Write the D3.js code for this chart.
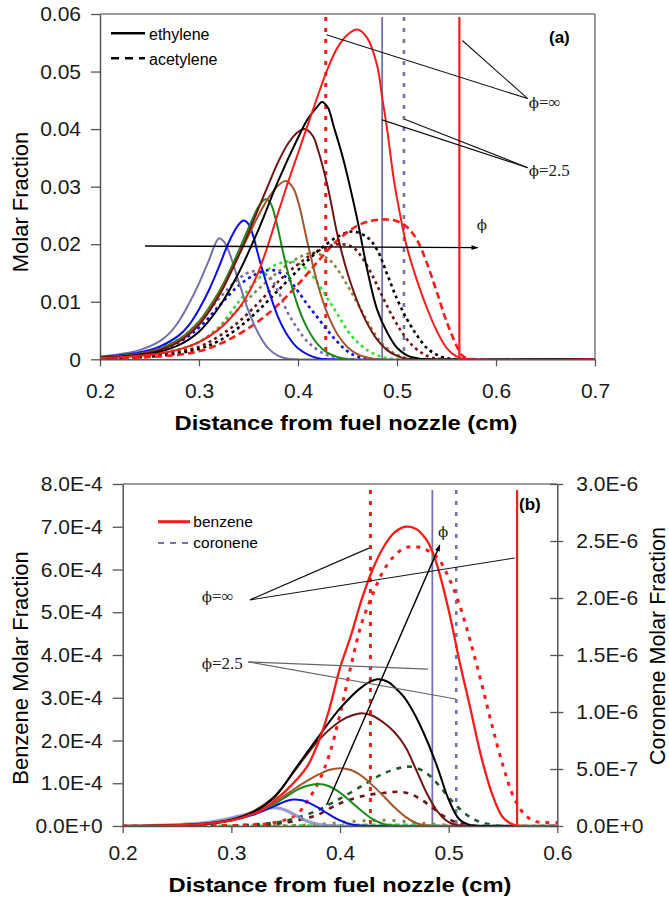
<!DOCTYPE html>
<html>
<head>
<meta charset="utf-8">
<script src="https://cdn.jsdelivr.net/npm/d3@7/dist/d3.min.js"></script>
<style>
  html, body { margin: 0; padding: 0; background: #fff; }
  svg { display: block; }
</style>
</head>
<body>
<svg id="chart" width="669" height="900"></svg>
<script>
// ================= DATA =================
// Panel (a) ticks
const xTicksA = [0.2, 0.3, 0.4, 0.5, 0.6, 0.7];
const yTicksA = [0, 0.01, 0.02, 0.03, 0.04, 0.05, 0.06];
// Panel (b) ticks
const xTicksB = [0.2, 0.3, 0.4, 0.5, 0.6];
const yTicksBL = [0, 1e-4, 2e-4, 3e-4, 4e-4, 5e-4, 6e-4, 7e-4, 8e-4];
const yTicksBR = [0, 5e-7, 1e-6, 1.5e-6, 2e-6, 2.5e-6, 3e-6];

// Flame-edge positions (cm): phi=inf dotted, phi=2.5 solid, phi=2.5 dotted, phi=inf solid
const edgeInfDotted = 0.428;
const edge25Solid = 0.485;
const edge25Dotted = 0.507;
const edgeInfSolid = 0.563;

// ---- Panel (a): ethylene (solid) ----
const ethSlate = [[0.20,0.0005],[0.22,0.0009],[0.24,0.0016],[0.26,0.0031],[0.27,0.0045],[0.28,0.0067],[0.29,0.0097],[0.30,0.0132],[0.31,0.0172],[0.32,0.0210],[0.325,0.0205],[0.33,0.0188],[0.34,0.0136],[0.35,0.0084],[0.36,0.0045],[0.37,0.0019],[0.38,0.0006],[0.39,0.0001],[0.40,0],[0.70,0]];
const ethBlue = [[0.20,0.0004],[0.22,0.0007],[0.24,0.0012],[0.26,0.0022],[0.28,0.0042],[0.29,0.0060],[0.30,0.0087],[0.31,0.0120],[0.32,0.0160],[0.33,0.0203],[0.34,0.0234],[0.345,0.0241],[0.35,0.0235],[0.355,0.0213],[0.36,0.0180],[0.37,0.0122],[0.38,0.0073],[0.39,0.0040],[0.40,0.0019],[0.41,0.0008],[0.42,0.0002],[0.43,0],[0.70,0]];
const ethGreen = [[0.20,0.0003],[0.22,0.0006],[0.24,0.0010],[0.26,0.0018],[0.28,0.0035],[0.30,0.0066],[0.32,0.0117],[0.33,0.0150],[0.34,0.0188],[0.35,0.0228],[0.36,0.0265],[0.367,0.0278],[0.372,0.0272],[0.378,0.0240],[0.385,0.0185],[0.39,0.0150],[0.40,0.0092],[0.41,0.0052],[0.42,0.0026],[0.43,0.0011],[0.44,0.0004],[0.45,0],[0.70,0]];
const ethBrown = [[0.20,0.0003],[0.22,0.0005],[0.24,0.0009],[0.26,0.0017],[0.28,0.0033],[0.30,0.0063],[0.32,0.0113],[0.34,0.0180],[0.35,0.0215],[0.36,0.0250],[0.37,0.0280],[0.38,0.0302],[0.388,0.0310],[0.395,0.0298],[0.40,0.0275],[0.41,0.0200],[0.42,0.0130],[0.43,0.0078],[0.44,0.0043],[0.45,0.0021],[0.46,0.0009],[0.47,0.0003],[0.48,0],[0.70,0]];
const ethMaroon = [[0.20,0.0003],[0.22,0.0005],[0.24,0.0009],[0.26,0.0016],[0.28,0.0031],[0.30,0.0060],[0.32,0.0110],[0.34,0.0180],[0.36,0.0262],[0.37,0.0303],[0.38,0.0343],[0.39,0.0375],[0.40,0.0395],[0.407,0.0400],[0.415,0.0388],[0.42,0.0365],[0.43,0.0300],[0.44,0.0215],[0.45,0.0150],[0.46,0.0100],[0.47,0.0062],[0.48,0.0034],[0.49,0.0016],[0.50,0.0006],[0.51,0.0001],[0.52,0],[0.70,0]];
const ethBlack = [[0.20,0.0002],[0.22,0.0004],[0.24,0.0007],[0.26,0.0013],[0.28,0.0025],[0.30,0.0048],[0.32,0.0090],[0.34,0.0150],[0.36,0.0225],[0.38,0.0310],[0.40,0.0385],[0.41,0.0418],[0.42,0.0440],[0.424,0.0447],[0.43,0.0438],[0.436,0.0405],[0.446,0.0346],[0.46,0.0242],[0.47,0.0155],[0.48,0.0086],[0.49,0.0047],[0.50,0.0020],[0.51,0.0007],[0.52,0.0002],[0.53,0],[0.70,0]];
const ethRed = [[0.20,0.0002],[0.24,0.0006],[0.27,0.0013],[0.30,0.0030],[0.32,0.0052],[0.34,0.0088],[0.35,0.0115],[0.36,0.0152],[0.37,0.0200],[0.38,0.0255],[0.39,0.0308],[0.40,0.0358],[0.41,0.0408],[0.42,0.0458],[0.43,0.0505],[0.44,0.0542],[0.45,0.0564],[0.46,0.0573],[0.47,0.0558],[0.48,0.0510],[0.485,0.0455],[0.49,0.0400],[0.497,0.0310],[0.505,0.0235],[0.51,0.0195],[0.52,0.0138],[0.53,0.0090],[0.54,0.0050],[0.55,0.0020],[0.56,0.0005],[0.57,0],[0.70,0]];

// ---- Panel (a): acetylene (dashed) ----
const acSlate = [[0.20,0.0004],[0.25,0.0015],[0.28,0.0035],[0.30,0.0065],[0.32,0.0105],[0.34,0.0140],[0.355,0.0153],[0.37,0.0145],[0.38,0.0118],[0.39,0.0080],[0.40,0.0052],[0.41,0.0030],[0.42,0.0016],[0.43,0.0007],[0.44,0.0002],[0.46,0],[0.70,0]];
const acBlue = [[0.20,0.0003],[0.25,0.0012],[0.28,0.0030],[0.30,0.0055],[0.32,0.0092],[0.34,0.0128],[0.36,0.0150],[0.375,0.0155],[0.39,0.0140],[0.40,0.0118],[0.41,0.0094],[0.42,0.0072],[0.43,0.0050],[0.44,0.0030],[0.45,0.0014],[0.46,0.0005],[0.48,0],[0.70,0]];
const acLime = [[0.20,0.0002],[0.25,0.0008],[0.28,0.0018],[0.30,0.0030],[0.32,0.0056],[0.34,0.0100],[0.36,0.0140],[0.375,0.0162],[0.39,0.0170],[0.40,0.0167],[0.41,0.0155],[0.42,0.0132],[0.43,0.0105],[0.44,0.0078],[0.45,0.0050],[0.46,0.0030],[0.47,0.0016],[0.48,0.0007],[0.49,0.0002],[0.51,0],[0.70,0]];
const acOlive = [[0.20,0.0002],[0.25,0.0007],[0.28,0.0016],[0.30,0.0030],[0.32,0.0054],[0.34,0.0088],[0.36,0.0122],[0.38,0.0152],[0.40,0.0176],[0.415,0.0185],[0.43,0.0175],[0.44,0.0156],[0.45,0.0128],[0.46,0.0098],[0.47,0.0066],[0.48,0.0038],[0.49,0.0019],[0.50,0.0008],[0.51,0.0002],[0.53,0],[0.70,0]];
const acMaroon = [[0.20,0.0002],[0.26,0.0008],[0.30,0.0022],[0.32,0.0040],[0.34,0.0065],[0.36,0.0098],[0.38,0.0135],[0.40,0.0165],[0.42,0.0188],[0.44,0.0200],[0.455,0.0195],[0.465,0.0176],[0.475,0.0146],[0.485,0.0110],[0.495,0.0076],[0.505,0.0047],[0.515,0.0025],[0.525,0.0011],[0.535,0.0003],[0.55,0],[0.70,0]];
const acBlack = [[0.20,0.0001],[0.26,0.0006],[0.30,0.0018],[0.32,0.0032],[0.34,0.0055],[0.36,0.0085],[0.38,0.0120],[0.40,0.0155],[0.42,0.0188],[0.44,0.0213],[0.455,0.0222],[0.47,0.0212],[0.48,0.0190],[0.49,0.0148],[0.50,0.0105],[0.51,0.0070],[0.52,0.0042],[0.53,0.0020],[0.54,0.0008],[0.55,0.0002],[0.56,0],[0.70,0]];
const acRed = [[0.20,0.0001],[0.26,0.0005],[0.30,0.0014],[0.33,0.0034],[0.36,0.0066],[0.38,0.0095],[0.40,0.0130],[0.42,0.0170],[0.44,0.0207],[0.46,0.0232],[0.475,0.0241],[0.49,0.0243],[0.50,0.0240],[0.51,0.0230],[0.52,0.0208],[0.53,0.0168],[0.54,0.0118],[0.55,0.0066],[0.56,0.0024],[0.565,0.0008],[0.57,0.0002],[0.58,0],[0.70,0]];

// ---- Panel (b): benzene (solid, left axis) ----
const bzSlate = [[0.20,0],[0.24,0.02e-4],[0.27,0.06e-4],[0.29,0.13e-4],[0.31,0.25e-4],[0.32,0.32e-4],[0.33,0.39e-4],[0.338,0.43e-4],[0.345,0.41e-4],[0.35,0.37e-4],[0.36,0.24e-4],[0.37,0.11e-4],[0.38,0.04e-4],[0.39,0.01e-4],[0.40,0],[0.60,0]];
const bzBlue = [[0.20,0],[0.25,0.02e-4],[0.28,0.06e-4],[0.30,0.13e-4],[0.32,0.26e-4],[0.33,0.36e-4],[0.34,0.47e-4],[0.35,0.58e-4],[0.357,0.62e-4],[0.365,0.60e-4],[0.37,0.56e-4],[0.38,0.43e-4],[0.39,0.27e-4],[0.40,0.13e-4],[0.41,0.04e-4],[0.42,0.01e-4],[0.43,0],[0.60,0]];
const bzGreen = [[0.20,0],[0.25,0.02e-4],[0.28,0.06e-4],[0.30,0.14e-4],[0.32,0.29e-4],[0.34,0.52e-4],[0.35,0.68e-4],[0.36,0.84e-4],[0.37,0.94e-4],[0.38,0.98e-4],[0.39,0.93e-4],[0.40,0.78e-4],[0.41,0.57e-4],[0.42,0.35e-4],[0.43,0.16e-4],[0.44,0.05e-4],[0.45,0.01e-4],[0.46,0],[0.60,0]];
const bzBrown = [[0.20,0],[0.25,0.02e-4],[0.28,0.06e-4],[0.30,0.14e-4],[0.32,0.30e-4],[0.34,0.56e-4],[0.36,0.90e-4],[0.37,1.06e-4],[0.38,1.20e-4],[0.39,1.31e-4],[0.40,1.35e-4],[0.41,1.31e-4],[0.42,1.17e-4],[0.43,0.95e-4],[0.44,0.70e-4],[0.45,0.44e-4],[0.46,0.22e-4],[0.47,0.07e-4],[0.48,0.01e-4],[0.49,0],[0.60,0]];
const bzMaroon = [[0.20,0],[0.25,0.02e-4],[0.28,0.07e-4],[0.30,0.15e-4],[0.32,0.34e-4],[0.34,0.70e-4],[0.36,1.35e-4],[0.38,2.00e-4],[0.40,2.45e-4],[0.41,2.58e-4],[0.42,2.64e-4],[0.43,2.58e-4],[0.44,2.42e-4],[0.45,2.20e-4],[0.46,1.86e-4],[0.47,1.32e-4],[0.48,0.76e-4],[0.49,0.33e-4],[0.50,0.09e-4],[0.51,0.01e-4],[0.52,0],[0.60,0]];
const bzBlack = [[0.20,0],[0.25,0.02e-4],[0.28,0.06e-4],[0.30,0.14e-4],[0.32,0.32e-4],[0.34,0.68e-4],[0.36,1.38e-4],[0.38,2.08e-4],[0.40,2.75e-4],[0.42,3.25e-4],[0.434,3.43e-4],[0.445,3.36e-4],[0.45,3.25e-4],[0.46,2.98e-4],[0.47,2.55e-4],[0.48,2.00e-4],[0.49,1.35e-4],[0.50,0.62e-4],[0.51,0.15e-4],[0.52,0.02e-4],[0.53,0],[0.60,0]];
const bzRed = [[0.20,0],[0.25,0.02e-4],[0.28,0.06e-4],[0.30,0.13e-4],[0.32,0.28e-4],[0.33,0.40e-4],[0.34,0.60e-4],[0.35,0.82e-4],[0.36,1.08e-4],[0.37,1.40e-4],[0.38,1.95e-4],[0.39,2.72e-4],[0.40,3.70e-4],[0.41,4.45e-4],[0.42,5.30e-4],[0.43,6.00e-4],[0.44,6.52e-4],[0.45,6.86e-4],[0.46,7.00e-4],[0.47,6.95e-4],[0.48,6.68e-4],[0.485,6.42e-4],[0.49,6.05e-4],[0.50,5.05e-4],[0.51,3.85e-4],[0.52,2.75e-4],[0.53,1.62e-4],[0.54,0.75e-4],[0.55,0.20e-4],[0.56,0.03e-4],[0.57,0],[0.60,0]];

// ---- Panel (b): coronene (dotted, right axis) ----
const coRed = [[0.20,0],[0.30,0.005e-6],[0.34,0.03e-6],[0.36,0.10e-6],[0.37,0.22e-6],[0.38,0.38e-6],[0.39,0.62e-6],[0.40,0.98e-6],[0.41,1.40e-6],[0.42,1.78e-6],[0.43,2.03e-6],[0.44,2.24e-6],[0.45,2.37e-6],[0.46,2.44e-6],[0.47,2.45e-6],[0.48,2.42e-6],[0.49,2.35e-6],[0.50,2.18e-6],[0.51,1.94e-6],[0.52,1.62e-6],[0.53,1.26e-6],[0.54,0.88e-6],[0.55,0.53e-6],[0.56,0.25e-6],[0.57,0.10e-6],[0.58,0.04e-6],[0.59,0.03e-6],[0.60,0.03e-6]];
const coDkGreen = [[0.20,0],[0.30,0.005e-6],[0.34,0.03e-6],[0.36,0.07e-6],[0.38,0.14e-6],[0.39,0.19e-6],[0.40,0.24e-6],[0.42,0.35e-6],[0.44,0.46e-6],[0.455,0.51e-6],[0.465,0.52e-6],[0.475,0.49e-6],[0.485,0.42e-6],[0.495,0.31e-6],[0.505,0.20e-6],[0.515,0.11e-6],[0.525,0.05e-6],[0.535,0.02e-6],[0.55,0],[0.60,0]];
const coMaroon = [[0.20,0],[0.32,0.005e-6],[0.35,0.03e-6],[0.37,0.07e-6],[0.38,0.10e-6],[0.39,0.15e-6],[0.40,0.20e-6],[0.42,0.26e-6],[0.44,0.29e-6],[0.455,0.30e-6],[0.465,0.28e-6],[0.475,0.23e-6],[0.485,0.16e-6],[0.495,0.09e-6],[0.505,0.04e-6],[0.515,0.015e-6],[0.53,0],[0.60,0]];
const coOlive = [[0.20,0],[0.36,0.005e-6],[0.38,0.015e-6],[0.40,0.03e-6],[0.42,0.045e-6],[0.44,0.05e-6],[0.46,0.04e-6],[0.48,0.02e-6],[0.50,0.008e-6],[0.52,0],[0.60,0]];
const coLime = [[0.20,0],[0.38,0.004e-6],[0.42,0.01e-6],[0.46,0.01e-6],[0.50,0.003e-6],[0.60,0]];

// ---- Annotations (data coordinates) ----
const PHI = "\u03D5";
const annA = {
  inf: { text: PHI + "=\u221E", at: [0.633, 0.0437], from: [0.632, 0.0453], to: [[0.4287, 0.0564], [0.566, 0.0554]] },
  p25: { text: PHI + "=2.5", at: [0.633, 0.0319], from: [0.632, 0.0333], to: [[0.485, 0.0416], [0.5077, 0.0417]] },
  arrow: { from: [0.2455, 0.0197], to: [0.5816, 0.0194], text: PHI, at: [0.5806, 0.0225] }
};
const annB = {
  inf: { text: PHI + "=\u221E", at: [0.2727, 5.24e-4], from: [0.3171, 5.29e-4], to: [[0.4266, 6.50e-4], [0.5609, 6.27e-4]] },
  p25: { text: PHI + "=2.5", at: [0.2727, 3.67e-4], from: [0.3155, 3.84e-4], to: [[0.4809, 3.67e-4], [0.5066, 2.97e-4]] },
  arrow: { from: [0.3877, 0.49e-4], to: [0.4919, 6.57e-4], text: PHI, at: [0.4901, 6.76e-4] }
};

// ================= STYLES =================
const COL = {
  slate: "#7272AC", blue: "#0B0BF2", green: "#188A18", lime: "#33E033",
  brown: "#A5552B", olive: "#8E8442", maroon: "#701414", black: "#000000",
  red: "#FF1A1A", dkgreen: "#1E5C2C", axis: "#555555", frame: "#7a7a7a"
};
const SANS = "'Liberation Sans', Arial, Helvetica, sans-serif";
const SERIF = "'DejaVu Serif', 'Liberation Serif', 'Times New Roman', serif";
const SERIF2 = "'Liberation Serif', 'Times New Roman', serif";

const svg = d3.select("#chart");
svg.append("rect").attr("width", 669).attr("height", 900).attr("fill", "#fff");

const defs = svg.append("defs");
defs.append("marker").attr("id", "arr").attr("viewBox", "0 0 10 10")
  .attr("refX", 9).attr("refY", 5).attr("markerWidth", 7).attr("markerHeight", 7)
  .attr("orient", "auto").attr("markerUnits", "userSpaceOnUse")
  .append("path").attr("d", "M0,1.5 L10,5 L0,8.5 z").attr("fill", "#000");

function styleAxis(g, fs) {
  g.selectAll(".domain").attr("stroke", COL.axis).attr("stroke-width", 1.5);
  g.selectAll(".tick line").attr("stroke", COL.axis).attr("stroke-width", 1.3);
  g.selectAll(".tick text").attr("fill", "#1a1a1a").style("font-family", SANS).style("font-size", fs + "px");
}

function drawLine(g, data, x, y, color, width, dash, opacity) {
  const gen = d3.line().x(d => x(d[0])).y(d => y(d[1])).curve(d3.curveCatmullRom.alpha(0.5));
  g.append("path").datum(data).attr("d", gen).attr("fill", "none")
    .attr("stroke", color).attr("stroke-width", width)
    .attr("stroke-dasharray", dash || null)
    .attr("stroke-opacity", opacity == null ? 1 : opacity)
    .attr("stroke-linejoin", "round");
}

// phi label: phi glyph in one font, rest in Times-like serif
function phiText(g, xp, yp, txt) {
  const t = g.append("text").attr("x", xp).attr("y", yp).attr("fill", "#222").style("font-size", "17px");
  t.append("tspan").style("font-family", SERIF).style("font-size", "15px").text(txt.slice(0, 1));
  if (txt.length > 1) t.append("tspan").style("font-family", SERIF2).text(txt.slice(1));
}

function drawAnnot(g, ann, x, y, col) {
  [ann.inf, ann.p25].forEach((a, i) => {
    a.to.forEach(t => {
      g.append("line").attr("x1", x(a.from[0])).attr("y1", y(a.from[1]))
        .attr("x2", x(t[0])).attr("y2", y(t[1]))
        .attr("stroke", col[i]).attr("stroke-width", 1.1);
    });
    phiText(g, x(a.at[0]), y(a.at[1]), a.text);
  });
  g.append("line").attr("x1", x(ann.arrow.from[0])).attr("y1", y(ann.arrow.from[1]))
    .attr("x2", x(ann.arrow.to[0])).attr("y2", y(ann.arrow.to[1]))
    .attr("stroke", "#000").attr("stroke-width", 1.4).attr("marker-end", "url(#arr)");
  phiText(g, x(ann.arrow.at[0]), y(ann.arrow.at[1]), ann.arrow.text);
}

function drawEdges(g, x, y0, y1) {
  const L = (xv, color, w, dash) => g.append("line")
    .attr("x1", x(xv)).attr("x2", x(xv)).attr("y1", y0).attr("y2", y1)
    .attr("stroke", color).attr("stroke-width", w).attr("stroke-dasharray", dash || null);
  L(edgeInfDotted, COL.red, 3, "4,7");
  L(edge25Solid, COL.slate, 1.8);
  L(edge25Dotted, COL.slate, 2.6, "4,7");
  L(edgeInfSolid, COL.red, 2.2);
}

// ================= PANEL (a) =================
{
  const x = d3.scaleLinear().domain([0.2, 0.7]).range([100, 595]);
  const y = d3.scaleLinear().domain([0, 0.06]).range([359.3, 14]);
  const g = svg.append("g");

  defs.append("clipPath").attr("id", "clipA").append("rect")
    .attr("x", 100).attr("y", 14).attr("width", 495).attr("height", 345.3);

  g.append("line").attr("x1", 100).attr("x2", 595).attr("y1", 14).attr("y2", 14).attr("stroke", COL.frame).attr("stroke-width", 1.5);
  g.append("line").attr("x1", 595).attr("x2", 595).attr("y1", 14).attr("y2", 359.3).attr("stroke", COL.frame).attr("stroke-width", 1.5);

  const plot = g.append("g").attr("clip-path", "url(#clipA)");
  drawEdges(plot, x, 17, 359.3);

  const dashA = "3,3.5";
  [[acSlate, COL.slate], [acBlue, COL.blue], [acLime, COL.lime], [acOlive, COL.olive],
   [acMaroon, COL.maroon], [acBlack, COL.black]].forEach(([d, c]) => drawLine(plot, d, x, y, c, 2.6, dashA));
  drawLine(plot, acRed, x, y, COL.red, 2.6, "7,4");

  [[ethSlate, COL.slate], [ethBlue, COL.blue], [ethGreen, COL.green], [ethBrown, COL.brown],
   [ethMaroon, COL.maroon], [ethBlack, COL.black], [ethRed, COL.red]].forEach(([d, c]) => drawLine(plot, d, x, y, c, 2));

  drawAnnot(g, annA, x, y, ["#111", "#111"]);

  const xa = g.append("g").attr("transform", "translate(0,359.3)")
    .call(d3.axisBottom(x).tickValues(xTicksA).tickFormat(d3.format(".1f")).tickSizeInner(7).tickSizeOuter(0).tickPadding(17));
  styleAxis(xa, 21);
  const ya = g.append("g").attr("transform", "translate(100,0)")
    .call(d3.axisLeft(y).tickValues(yTicksA).tickFormat(d => d === 0 ? "0" : d.toFixed(2)).tickSizeInner(9).tickSizeOuter(0).tickPadding(10));
  styleAxis(ya, 21);

  g.append("text").attr("x", 346).attr("y", 429.5).attr("text-anchor", "middle")
    .style("font-family", SANS).style("font-size", "21px").style("font-weight", "bold")
    .attr("textLength", 343).attr("lengthAdjust", "spacingAndGlyphs")
    .text("Distance from fuel nozzle (cm)");
  g.append("text").attr("transform", "translate(28,202) rotate(-90)").attr("text-anchor", "middle")
    .style("font-family", SANS).style("font-size", "22px").text("Molar Fraction");

  g.append("line").attr("x1", 111).attr("x2", 145).attr("y1", 33.3).attr("y2", 33.3).attr("stroke", "#000").attr("stroke-width", 2.5);
  g.append("text").attr("x", 149).attr("y", 40).style("font-family", SANS).style("font-size", "16px").text("ethylene");
  g.append("line").attr("x1", 111).attr("x2", 145).attr("y1", 58.3).attr("y2", 58.3).attr("stroke", "#000").attr("stroke-width", 2.5).attr("stroke-dasharray", "8,6");
  g.append("text").attr("x", 149).attr("y", 64.5).style("font-family", SANS).style("font-size", "16px").text("acetylene");

  g.append("text").attr("x", 549).attr("y", 43).style("font-family", SANS).style("font-size", "17px").style("font-weight", "bold").text("(a)");
}

// ================= PANEL (b) =================
{
  const x = d3.scaleLinear().domain([0.2, 0.6]).range([122.7, 557.3]);
  const yL = d3.scaleLinear().domain([0, 8e-4]).range([826, 484]);
  const yR = d3.scaleLinear().domain([0, 3e-6]).range([826, 484]);
  const g = svg.append("g");

  defs.append("clipPath").attr("id", "clipB").append("rect")
    .attr("x", 122.7).attr("y", 484).attr("width", 434.6).attr("height", 342);

  g.append("line").attr("x1", 122.7).attr("x2", 557.3).attr("y1", 484).attr("y2", 484).attr("stroke", COL.frame).attr("stroke-width", 1.5);

  const plot = g.append("g").attr("clip-path", "url(#clipB)");
  drawEdges(plot, x, 490, 826);

  drawLine(plot, coLime, x, yR, COL.lime, 2.6, "5,3");
  drawLine(plot, coOlive, x, yR, COL.olive, 3, "3,7");
  drawLine(plot, coMaroon, x, yR, COL.maroon, 2.6, "5,6");
  drawLine(plot, coDkGreen, x, yR, COL.dkgreen, 2.6, "5,6");
  drawLine(plot, coRed, x, yR, COL.red, 3, "4,6");

  drawLine(plot, bzSlate, x, yL, "#8A8AC4", 3.2, null, 0.85);
  [[bzBlue, COL.blue], [bzGreen, COL.green], [bzBrown, COL.brown], [bzMaroon, COL.maroon],
   [bzBlack, COL.black]].forEach(([d, c]) => drawLine(plot, d, x, yL, c, 2));
  drawLine(plot, bzRed, x, yL, COL.red, 2.3);

  drawAnnot(g, annB, x, yL, ["#111", "#666"]);

  const xa = g.append("g").attr("transform", "translate(0,826)")
    .call(d3.axisBottom(x).tickValues(xTicksB).tickFormat(d3.format(".1f")).tickSizeInner(7).tickSizeOuter(0).tickPadding(12));
  styleAxis(xa, 21);
  const ya = g.append("g").attr("transform", "translate(122.7,0)")
    .call(d3.axisLeft(yL).tickValues(yTicksBL).tickFormat(d => d.toExponential(1).toUpperCase()).tickSizeInner(10).tickSizeOuter(0).tickPadding(10));
  styleAxis(ya, 21);
  const yr = g.append("g").attr("transform", "translate(557.3,0)")
    .call(d3.axisRight(yR).tickValues(yTicksBR).tickFormat(d => d.toExponential(1).toUpperCase()).tickSizeInner(6).tickSizeOuter(0).tickPadding(13));
  styleAxis(yr, 21);
  yr.selectAll(".tick line").attr("x1", -7);

  g.append("text").attr("x", 340).attr("y", 892).attr("text-anchor", "middle")
    .style("font-family", SANS).style("font-size", "21px").style("font-weight", "bold")
    .attr("textLength", 343).attr("lengthAdjust", "spacingAndGlyphs")
    .text("Distance from fuel nozzle (cm)");
  g.append("text").attr("transform", "translate(28,668) rotate(-90)").attr("text-anchor", "middle")
    .style("font-family", SANS).style("font-size", "22px").text("Benzene Molar Fraction");
  g.append("text").attr("transform", "translate(665,646) rotate(-90)").attr("text-anchor", "middle")
    .style("font-family", SANS).style("font-size", "21.5px").text("Coronene Molar Fraction");

  g.append("line").attr("x1", 158).attr("x2", 190).attr("y1", 521.7).attr("y2", 521.7).attr("stroke", COL.red).attr("stroke-width", 3);
  g.append("text").attr("x", 193.3).attr("y", 527).style("font-family", SANS).style("font-size", "15.5px").text("benzene");
  g.append("line").attr("x1", 158).attr("x2", 190).attr("y1", 543).attr("y2", 543).attr("stroke", COL.slate).attr("stroke-width", 2).attr("stroke-dasharray", "6,6");
  g.append("text").attr("x", 193.3).attr("y", 548).style("font-family", SANS).style("font-size", "15.5px").text("coronene");

  g.append("text").attr("x", 519).attr("y", 510).style("font-family", SANS).style("font-size", "17px").style("font-weight", "bold").text("(b)");
}
</script>
</body>
</html>
